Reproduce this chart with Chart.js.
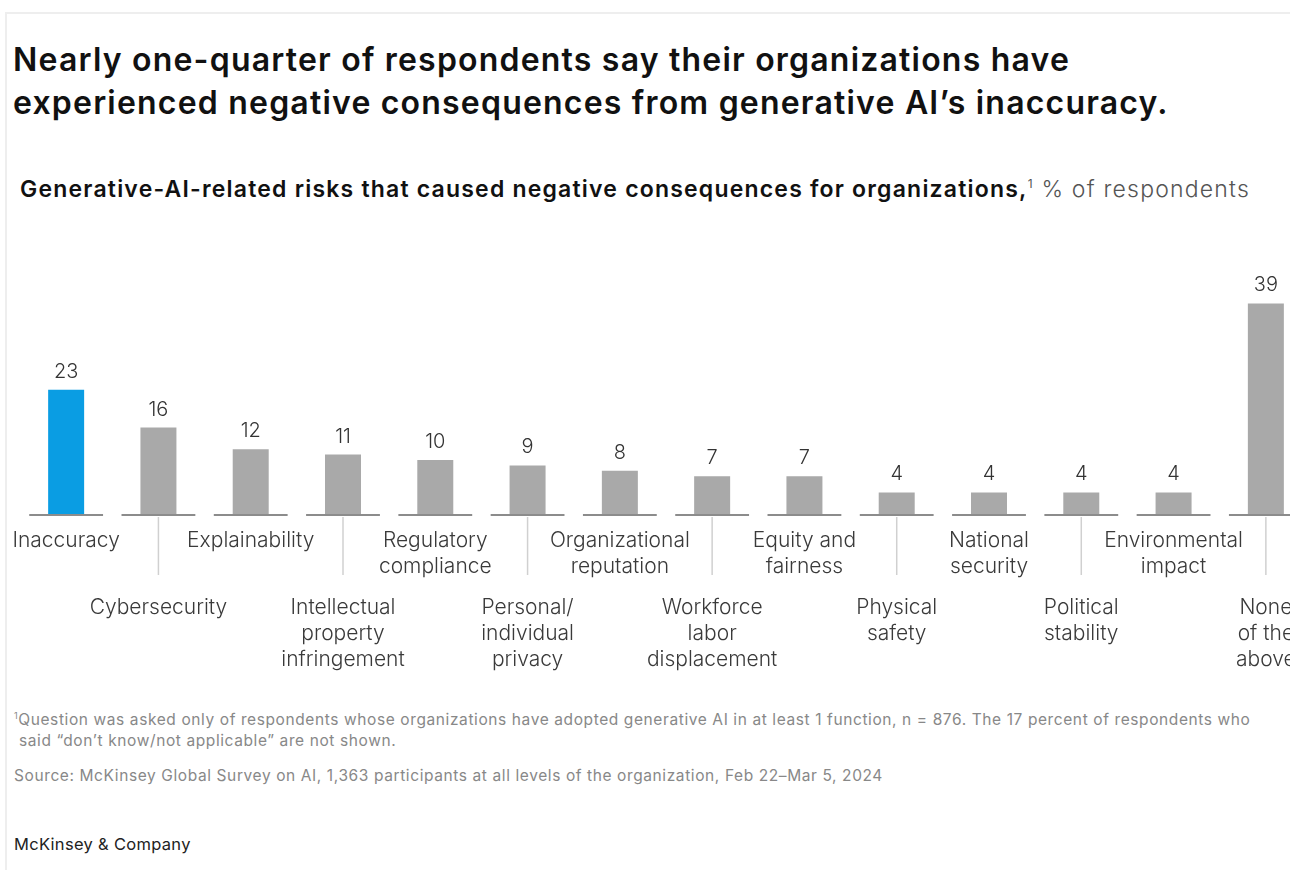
<!DOCTYPE html>
<html>
<head>
<meta charset="utf-8">
<script src="https://cdn.jsdelivr.net/npm/chart.js@4"></script>
<style>
  body { margin: 0; background: #fff; width: 1290px; height: 870px; overflow: hidden; position: relative; font-family: Inter, "Liberation Sans", Arial, sans-serif; }
  .frame { position: absolute; left: 5px; top: 12px; width: 1300px; height: 870px; border-left: 2px solid #eeeeee; border-top: 2px solid #eeeeee; }
  h1 { position: absolute; left: 13px; top: 38px; margin: 0; font-size: 32px; letter-spacing: 1.2px; line-height: 43px; font-weight: 600; color: #111; white-space: nowrap; }
  .sub { position: absolute; left: 20px; top: 175px; font-size: 23px; letter-spacing: 1.2px; color: #111; white-space: nowrap; }
  .sub b { font-weight: 600; }
  .sub sup { font-size: 12px; color: #555; }
  .sub span { color: #555; font-weight: 300; }
  #box { position: absolute; left: 0px; top: 270px; width: 1312px; height: 410px; }
  .note { position: absolute; left: 14px; font-size: 15.5px; letter-spacing: 0.6px; color: #888; line-height: 21px; white-space: nowrap; }
  .brand { position: absolute; left: 14px; top: 834px; font-size: 16.5px; letter-spacing: 0.3px; color: #222; }
</style>
</head>
<body>
<div class="frame"></div>
<h1>Nearly one-quarter of respondents say their organizations have<br>experienced negative consequences from generative AI’s inaccuracy.</h1>
<div class="sub"><b>Generative-AI-related risks that caused negative consequences for organizations,</b><sup>1</sup> <span>% of respondents</span></div>
<div id="box"><canvas id="grafica"></canvas></div>
<div class="note" style="top:705px"><sup style="font-size:9px">1</sup>Question was asked only of respondents whose organizations have adopted generative AI in at least 1 function, n = 876. The 17 percent of respondents who<br>&nbsp;said “don’t know/not applicable” are not shown.</div>
<div class="note" style="top:765px">Source: McKinsey Global Survey on AI, 1,363 participants at all levels of the organization, Feb 22–Mar 5, 2024</div>
<div class="brand">McKinsey &amp; Company</div>

<script>
//DATOS
const categorias = [
  ["Inaccuracy"],
  ["Cybersecurity"],
  ["Explainability"],
  ["Intellectual", "property", "infringement"],
  ["Regulatory", "compliance"],
  ["Personal/", "individual", "privacy"],
  ["Organizational", "reputation"],
  ["Workforce", "labor", "displacement"],
  ["Equity and", "fairness"],
  ["Physical", "safety"],
  ["National", "security"],
  ["Political", "stability"],
  ["Environmental", "impact"],
  ["None", "of the", "above"]
]
const valores = [23, 16, 12, 11, 10, 9, 8, 7, 7, 4, 4, 4, 4, 39]
const colores = valores.map((v, i) => i === 0 ? "#0a9de3" : "#a9a9a9")

//etiquetas, linea base y valores
const extras = {
  id: "extras",
  afterDatasetsDraw(chart) {
    const ctx = chart.ctx
    const x = chart.scales.x
    const y = chart.scales.y
    const base = y.getPixelForValue(0)
    const paso = x.getPixelForValue(1) - x.getPixelForValue(0)
    ctx.save()
    categorias.forEach((lineas, i) => {
      const cx = x.getPixelForValue(i)
      // linea base
      ctx.strokeStyle = "#8c8c8c"
      ctx.lineWidth = 2
      ctx.beginPath()
      ctx.moveTo(cx - paso * 0.4, base + 1)
      ctx.lineTo(cx + paso * 0.4, base + 1)
      ctx.stroke()
      // valor
      ctx.fillStyle = "#333"
      ctx.font = "300 20px Inter, 'Liberation Sans', Arial, sans-serif"
      ctx.textAlign = "center"
      ctx.textBaseline = "middle"
      ctx.fillText(valores[i], cx, y.getPixelForValue(valores[i]) - 18)
      // etiqueta
      const impar = i % 2 === 1
      if (impar) {
        ctx.strokeStyle = "#d0d0d0"
        ctx.lineWidth = 1.5
        ctx.beginPath()
        ctx.moveTo(cx, base + 3)
        ctx.lineTo(cx, base + 61)
        ctx.stroke()
      }
      ctx.fillStyle = "#3a3a3a"
      ctx.font = "300 21px Inter, 'Liberation Sans', Arial, sans-serif"
      const y0 = base + (impar ? 94 : 27)
      lineas.forEach((t, k) => ctx.fillText(t, cx, y0 + k * 26))
    })
    ctx.restore()
  }
}

new Chart(document.getElementById("grafica"), {
  type: "bar",
  data: {
    labels: categorias.map(c => c.join(" ")),
    datasets: [{
      data: valores,
      backgroundColor: colores,
      categoryPercentage: 1,
      barPercentage: 0.39
    }]
  },
  options: {
    responsive: true,
    maintainAspectRatio: false,
    animation: false,
    layout: { padding: { top: 28, bottom: 166, left: 20, right: 0 } },
    scales: {
      x: { display: false },
      y: { display: false, min: 0, max: 40 }
    },
    plugins: {
      legend: { display: false },
      title: { display: false },
      tooltip: { enabled: false }
    }
  },
  plugins: [extras]
})
</script>
</body>
</html>
